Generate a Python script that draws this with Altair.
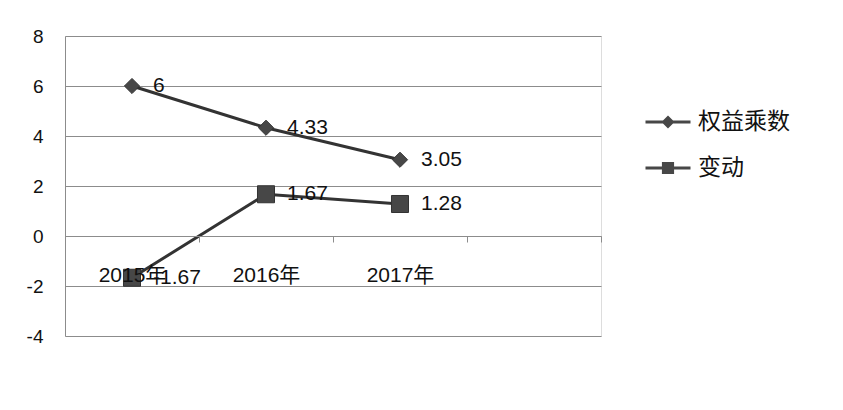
import altair as alt
import pandas as pd

categories = ["2015年", "2016年", "2017年"]
slots = categories + [""]
series = ["权益乘数", "变动"]
equity_multiplier = [6, 4.33, 3.05]
change = [-1.67, 1.67, 1.28]
y_ticks = [-4, -2, 0, 2, 4, 6, 8]

rows = []
for s, vals in zip(series, [equity_multiplier, change]):
    for c, v in zip(categories, vals):
        rows.append({"year": c, "series": s, "value": v, "label": f"{v:g}"})
df = pd.DataFrame(rows)

FONT = "Liberation Sans, Noto Sans CJK SC, sans-serif"
LINE = "#333333"
FILL = "#474747"
GRID = "#8c8c8c"

x_enc = alt.X(
    "year:N",
    bandPosition=0.5,
    scale=alt.Scale(type="band", domain=slots, paddingInner=0, paddingOuter=0),
    sort=slots,
    axis=alt.Axis(
        title=None, offset=-100, tickBand="extent", tickSize=6, tickColor=GRID,
        domainColor=GRID, labelAngle=0, labelPadding=22, labelFontSize=21,
        labelFont=FONT, labelColor="#111111", grid=False, zindex=2,
    ),
)
y_enc = alt.Y(
    "value:Q",
    scale=alt.Scale(domain=[-4, 8], nice=False, zero=False),
    axis=alt.Axis(
        title=None, values=y_ticks, ticks=False, domainColor=GRID, gridColor=GRID,
        gridOpacity=1, labelFontSize=19, labelFont=FONT, labelColor="#111111",
        labelPadding=22, labelExpr="datum.value + ''",
    ),
)

base = alt.Chart(df)

lines = base.mark_line(color=LINE, strokeWidth=3).encode(
    x=x_enc, y=y_enc, detail="series:N"
)

diamonds = base.transform_filter(alt.datum.series == series[0]).mark_point(
    shape="diamond", filled=True, size=230, fill=FILL, stroke=LINE, strokeWidth=1, opacity=1
).encode(x=x_enc, y=y_enc)

squares = base.transform_filter(alt.datum.series == series[1]).mark_point(
    shape="square", filled=True, size=290, fill=FILL, stroke=LINE, strokeWidth=1, opacity=1
).encode(x=x_enc, y=y_enc)

labels = base.mark_text(
    align="left", baseline="middle", dx=21, fontSize=21, font=FONT, color="#111111"
).encode(x=x_enc, y=y_enc, text="label:N")

# legend glyphs: a thick horizontal stroke with the series marker in the middle
legend_paths = [
    "M-1,-0.065H-0.2V0.065H-1Z M0.2,-0.065H1V0.065H0.2Z M0,-0.29L0.29,0L0,0.29L-0.29,0Z",
    "M-1,-0.065H-0.2V0.065H-1Z M0.2,-0.065H1V0.065H0.2Z M-0.27,-0.27H0.27V0.27H-0.27Z",
]
legend_layer = base.transform_filter(alt.datum.value > 1000).mark_point(
    filled=True, opacity=1, color=FILL, fill=FILL
).encode(
    x=x_enc, y=y_enc,
    shape=alt.Shape(
        "series:N",
        scale=alt.Scale(domain=series, range=legend_paths),
        legend=alt.Legend(
            title=None, orient="none", legendX=580, legendY=63,
            symbolSize=2025, symbolFillColor=FILL, symbolStrokeColor=LINE,
            symbolStrokeWidth=1, symbolOpacity=1, labelFontSize=23, labelFont=FONT,
            labelColor="#111111", labelOffset=7, rowPadding=11,
        ),
    ),
)

chart = alt.layer(lines, diamonds, squares, labels, legend_layer).properties(
    width=536, height=300, padding={"left": 18, "top": 19, "right": 5, "bottom": 5}
).configure_view(stroke=None).configure(background="white")

chart.save("out.html", embed_options={"renderer": "svg", "actions": False})
